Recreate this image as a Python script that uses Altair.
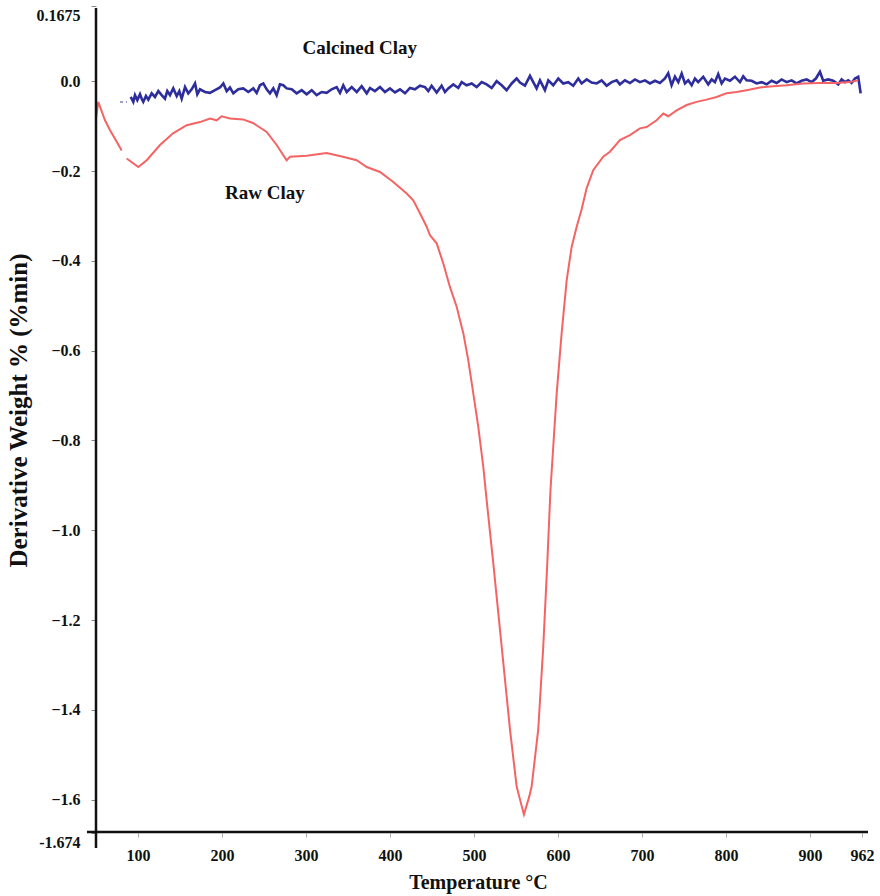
import altair as alt
import pandas as pd

# ---------------- data ----------------
x_ticks = [100, 200, 300, 400, 500, 600, 700, 800, 900, 962]
y_ticks = [0.1675, 0.0, -0.2, -0.4, -0.6, -0.8, -1.0, -1.2, -1.4, -1.6, -1.674]

# Raw clay, first short piece (before the small break)
raw_t1 = [50.0, 52.7, 60.7, 66.7, 72.6, 80.6]
raw_d1 = [-0.082, -0.046, -0.087, -0.109, -0.128, -0.154]

# Raw clay, main trace
raw_t2 = [86.5, 100.4, 110.4, 126.2, 141.7, 158.0, 173.8, 185.7, 193.7, 199.6,
          209.5, 225.0, 236.9, 253.2, 265.1, 277.0, 281.0, 300.8, 324.6, 344.0,
          360.4, 372.3, 388.1, 403.6, 419.9, 427.7, 435.7, 443.7, 447.6, 455.6,
          463.5, 471.4, 479.4, 487.3, 493.2, 499.2, 505.1, 511.1, 515.1, 523.0,
          533.0, 542.9, 550.8, 553.9, 559.5, 565.8, 568.7, 576.5, 582.5, 587.3,
          591.1, 594.4, 598.5, 604.4, 610.4, 616.3, 622.3, 628.2, 634.2, 642.0,
          653.9, 661.9, 673.8, 685.7, 697.6, 705.6, 717.5, 725.4, 731.3, 741.3,
          753.2, 765.1, 777.0, 788.9, 800.8, 812.7, 824.6, 840.5, 856.3, 872.3,
          892.0, 911.9, 931.8, 947.6, 957.5]
raw_d2 = [-0.172, -0.191, -0.176, -0.142, -0.116, -0.098, -0.091, -0.083, -0.087, -0.078,
          -0.083, -0.085, -0.093, -0.113, -0.142, -0.176, -0.168, -0.166, -0.160, -0.168,
          -0.176, -0.191, -0.202, -0.224, -0.250, -0.265, -0.294, -0.324, -0.343, -0.361,
          -0.406, -0.458, -0.502, -0.561, -0.621, -0.695, -0.769, -0.858, -0.933, -1.073,
          -1.259, -1.444, -1.570, -1.593, -1.633, -1.593, -1.570, -1.444, -1.259, -1.073,
          -0.910, -0.814, -0.695, -0.561, -0.443, -0.369, -0.324, -0.285, -0.238, -0.198,
          -0.168, -0.157, -0.131, -0.120, -0.105, -0.102, -0.087, -0.072, -0.078, -0.065,
          -0.053, -0.046, -0.041, -0.035, -0.027, -0.024, -0.020, -0.014, -0.011, -0.009,
          -0.005, -0.004, -0.004, -0.002, 0.002]

# Calcined clay: faint lead-in dashes, then the noisy trace
cal_lead_t = [78.6, 86.9]
cal_lead_d = [-0.046, -0.046]

cal_t = [91.3, 94.4, 96.4, 99.2, 102.4, 104.4, 106.3, 109.5, 112.3, 116.3,
         120.2, 124.2, 128.2, 132.1, 134.9, 138.1, 142.0, 146.1, 149.2, 152.0,
         156.0, 159.9, 163.9, 167.9, 170.6, 173.8, 179.8, 185.7, 191.7, 197.6,
         201.6, 205.6, 209.5, 213.5, 219.4, 225.4, 231.3, 237.3, 241.3, 245.2,
         249.2, 253.2, 257.1, 261.1, 265.1, 269.0, 273.0, 277.0, 283.0, 288.9,
         294.9, 300.8, 306.8, 312.7, 318.7, 324.6, 330.6, 336.5, 340.5, 344.4,
         348.5, 354.4, 360.4, 366.3, 372.3,
         376.2, 382.1, 388.1, 394.0, 400.0, 406.0, 411.9, 417.9, 423.8, 429.8,
         435.7, 441.7, 445.6, 449.6, 455.6, 461.5, 465.5, 469.4, 475.4, 481.3,
         485.4, 491.3, 497.3, 503.2, 509.2, 515.1, 521.1, 527.0, 533.0, 538.9,
         544.9, 550.8, 554.8, 560.7, 566.7, 570.6, 574.6, 578.6, 584.5, 588.5,
         594.4, 600.4, 606.3, 612.3, 618.2, 624.2, 628.2, 634.2, 640.1, 646.1,
         652.0, 658.0, 663.9, 669.9,
         673.8, 679.8, 685.7, 691.7, 697.6, 703.6, 709.5, 715.5, 721.4, 727.4,
         731.3, 735.3, 739.3, 743.3, 747.3, 751.2, 755.1, 759.2, 763.1, 767.0,
         773.0, 778.9, 783.0, 786.9, 790.8, 794.9, 798.8, 804.8, 810.7, 816.7,
         820.6, 824.6, 830.6, 836.5, 842.5, 848.5, 854.4, 860.4, 866.3, 872.3,
         878.2, 884.2, 890.1, 896.1, 902.0, 907.1, 911.9, 915.8, 921.8, 927.7,
         933.7, 937.7, 941.7, 945.6, 949.6, 953.6, 957.5, 960.4]
cal_d = [-0.035, -0.046, -0.031, -0.042, -0.029, -0.039, -0.046, -0.033, -0.041, -0.027,
         -0.035, -0.022, -0.031, -0.039, -0.022, -0.031, -0.016, -0.033, -0.022, -0.039,
         -0.013, -0.027, -0.018, -0.005, -0.029, -0.018, -0.024, -0.026, -0.020, -0.014,
         -0.005, -0.022, -0.014, -0.027, -0.018, -0.016, -0.024, -0.016, -0.026, -0.009,
         -0.005, -0.018, -0.027, -0.016, -0.031, -0.007, -0.009, -0.016, -0.018, -0.027,
         -0.020, -0.029, -0.020, -0.031, -0.024, -0.026, -0.018, -0.013, -0.026, -0.009,
         -0.024, -0.013, -0.024, -0.011, -0.027,
         -0.015, -0.022, -0.013, -0.024, -0.016, -0.025, -0.018, -0.027, -0.015, -0.018,
         -0.010, -0.013, -0.022, -0.010, -0.025, -0.010, -0.024, -0.016, -0.007, -0.015,
         -0.002, -0.009, -0.005, -0.013, -0.002, -0.007, -0.015, 0.000, -0.009, -0.020,
         -0.005, 0.006, -0.003, -0.010, 0.012, -0.002, -0.016, 0.002, -0.020, 0.002,
         -0.009, 0.006, -0.005, -0.002, -0.010, 0.006, -0.005, 0.004, -0.003, -0.005,
         0.002, -0.010, -0.002, 0.002,
         -0.007, 0.002, -0.004, 0.004, -0.002, 0.002, -0.005, 0.001, -0.004, 0.006,
         0.018, -0.009, 0.010, -0.002, 0.017, -0.005, 0.002, -0.009, 0.006, -0.002,
         0.010, -0.007, 0.004, -0.002, 0.016, -0.005, 0.006, 0.001, 0.010, -0.002,
         0.011, 0.002, 0.001, -0.005, -0.002, -0.007, 0.001, -0.004, 0.004, -0.002,
         0.002, -0.005, 0.001, 0.004, -0.002, 0.006, 0.021, 0.001, 0.004, 0.001,
         -0.007, 0.004, -0.002, 0.002, -0.004, 0.006, 0.010, -0.027]

labels = ["Calcined Clay", "Raw Clay"]
label_t = [364.0, 251.0]
label_d = [0.073, -0.249]

# ---------------- build ----------------
raw = pd.concat([
    pd.DataFrame({"T": raw_t1, "D": raw_d1, "part": "a"}),
    pd.DataFrame({"T": raw_t2, "D": raw_d2, "part": "b"}),
], ignore_index=True)
cal = pd.DataFrame({"T": cal_t, "D": cal_d})
cal_lead = pd.DataFrame({"T": cal_lead_t, "D": cal_lead_d})
lab = pd.DataFrame({"T": label_t, "D": label_d, "label": labels})

FONT = "Liberation Serif"
W, H = 766, 827

xs = alt.Scale(domain=[50, 962], nice=False, zero=False)
ys = alt.Scale(domain=[-1.674, 0.1675], nice=False, zero=False)

x_axis = alt.Axis(
    values=x_ticks, domain=False, grid=False,
    tickSize=4, tickColor="#aaaaaa", tickWidth=1,
    labelPadding=10, labelFont=FONT, labelFontSize=16, labelFontWeight="bold",
    labelColor="#111111", labelFlush=False, labelOverlap=False,
    title="Temperature °C", titleFont=FONT, titleFontSize=20, titleFontWeight="bold",
    titleColor="#111111", titleX=382, titleY=49, titleAlign="center", titleBaseline="middle",
)
y_axis = alt.Axis(
    values=y_ticks, domain=False, grid=False,
    tickSize=5, tickColor="#888888", tickWidth=1,
    labelPadding=11, labelFont=FONT, labelFontSize=16, labelFontWeight="bold",
    labelColor="#111111", labelFlush=False, labelOverlap=False,
    labelExpr="datum.value == 0.1675 ? '0.1675' : (datum.value == -1.674 ? '-1.674' : format(datum.value, '.1f'))",
    labelOffset={"condition": {"test": "datum.value > 0.1 || datum.value < -1.65", "value": 9}, "value": 0},
    title="Derivative Weight % (%min)", titleFont=FONT, titleFontSize=25, titleFontWeight="bold",
    titleColor="#111111", titleX=-78, titleY=404, titleAngle=270, titleAlign="center",
    titleBaseline="middle",
)

cal_lead_line = alt.Chart(cal_lead).mark_line(
    color="#5a5ab4", strokeWidth=1.5, strokeDash=[3, 3], opacity=0.8
).encode(
    x=alt.X("T:Q", scale=xs, axis=x_axis),
    y=alt.Y("D:Q", scale=ys, axis=y_axis),
)

cal_line = alt.Chart(cal).mark_line(color="#2d2d9c", strokeWidth=2.6).encode(
    x=alt.X("T:Q", scale=xs),
    y=alt.Y("D:Q", scale=ys),
)

raw_line = alt.Chart(raw).mark_line(color="#f46464", strokeWidth=2).encode(
    x=alt.X("T:Q", scale=xs),
    y=alt.Y("D:Q", scale=ys),
    detail="part:N",
)

text = alt.Chart(lab).mark_text(
    font=FONT, fontSize=19, fontWeight="bold", color="#111111"
).encode(
    x=alt.X("T:Q", scale=xs),
    y=alt.Y("D:Q", scale=ys),
    text="label:N",
)

one = pd.DataFrame({"k": [0]})
y_line = alt.Chart(one).mark_rule(color="#111111", strokeWidth=2.5).encode(
    x=alt.value(0), y=alt.value(2), y2=alt.value(842)
)
x_line = alt.Chart(one).mark_rule(color="#111111", strokeWidth=2.5).encode(
    x=alt.value(-9), x2=alt.value(772), y=alt.value(826)
)

chart = alt.layer(
    cal_lead_line, cal_line, raw_line, text, y_line, x_line
).properties(
    width=W, height=H,
    autosize=alt.AutoSizeParams(type="none"),
    padding={"left": 96, "top": 6, "right": 18, "bottom": 63},
    background="white",
).configure_view(stroke=None)

chart.save("out.html", embed_options={"renderer": "svg", "actions": False})
